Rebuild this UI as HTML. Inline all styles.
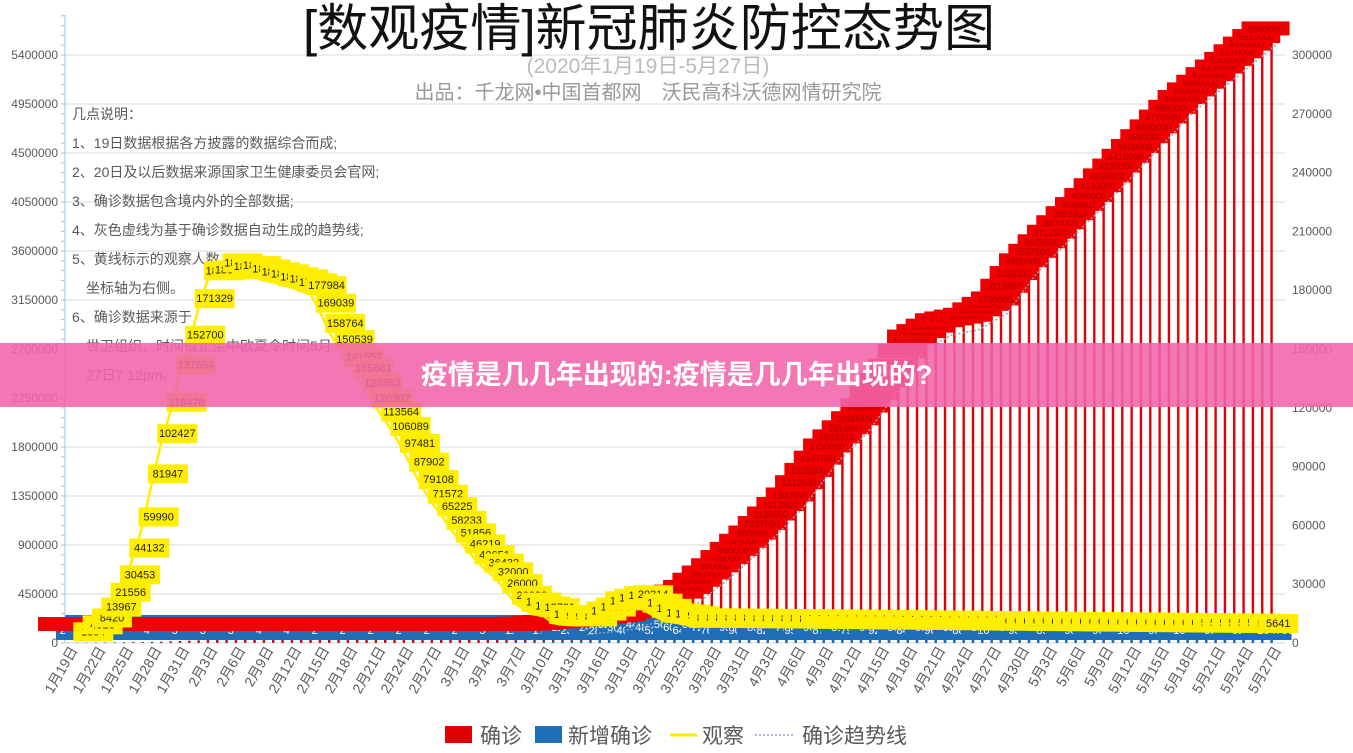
<!DOCTYPE html>
<html><head><meta charset="utf-8">
<style>
html,body{margin:0;padding:0;background:#fff;width:1353px;height:753px;overflow:hidden;font-family:"Liberation Sans","Noto Sans CJK SC",sans-serif;}
#banner{position:absolute;left:0;top:343px;width:1353px;height:64px;background:rgba(240,100,170,0.88);color:#fff;font-weight:bold;font-size:27px;text-align:center;line-height:64px;font-family:"Liberation Sans","Noto Sans CJK SC",sans-serif;}
</style></head><body>
<svg id="c" width="1353" height="753" xmlns="http://www.w3.org/2000/svg" style="position:absolute;left:0;top:0;font-family:'Liberation Sans','Noto Sans CJK SC',sans-serif"></svg>
<div id="banner">疫情是几几年出现的:疫情是几几年出现的?</div>
<script>
const S=document.getElementById('c');let h='';
const Y0=643,PX=588;
const yl=v=>Y0-v/5400000*PX, yr=v=>Y0-v/300000*PX, X=i=>68+i*9.33;
for(let k=0;k<=12;k++){const y=Y0-k*49;h+=`<line x1="65" x2="1285" y1="${y}" y2="${y}" stroke="#d9d9d9"/>`;h+=`<text x="58" y="${y+4}" font-size="12" fill="#595959" text-anchor="end">${k*450000}</text>`;}
for(let k=0;k<=10;k++){const y=Y0-k*58.8;h+=`<text x="1292" y="${y+4}" font-size="12" fill="#595959">${k*30000}</text>`;}
h+=`<line x1="65" x2="65" y1="15" y2="643" stroke="#9dc3e6"/>`;
for(let y=Y0;y>15;y-=9.8)h+=`<line x1="61" x2="65" y1="${y}" y2="${y}" stroke="#9dc3e6"/>`;
h+=`<text x="649" y="46" font-size="51" text-anchor="middle" fill="#111" textLength="692" lengthAdjust="spacingAndGlyphs">[数观疫情]新冠肺炎防控态势图</text>`;
h+=`<text x="648" y="73" font-size="21" text-anchor="middle" fill="#bbb">(2020年1月19日-5月27日)</text>`;
h+=`<text x="648" y="99" font-size="20" text-anchor="middle" fill="#999">出品：千龙网•中国首都网　沃民高科沃德网情研究院</text>`;
const notes=["几点说明：","1、19日数据根据各方披露的数据综合而成;","2、20日及以后数据来源国家卫生健康委员会官网;","3、确诊数据包含境内外的全部数据;","4、灰色虚线为基于确诊数据自动生成的趋势线;","5、黄线标示的观察人数","　坐标轴为右侧。","6、确诊数据来源于","　世卫组织，时间截止至中欧夏令时间5月","　27日7:12pm。"];
notes.forEach((t,i)=>h+=`<text x="72" y="${119+i*29}" font-size="14" fill="#595959">${t}</text>`);
const kp=[[0,200],[10,12000],[20,45000],[30,78000],[40,88000],[45,100000],[50,115000],[55,150000],[60,200000],[63,280000],[67,450000],[70,650000],[74,950000],[78,1300000],[82,1750000],[85,2000000],[88,2350000],[91,2750000],[94,2900000],[97,2950000],[100,3100000],[103,3450000],[107,3800000],[110,4050000],[115,4500000],[120,4950000],[125,5300000],[129,5580000]];
function conf(i){for(let k=1;k<kp.length;k++)if(i<=kp[k][0]){const a=kp[k-1],b=kp[k];return a[1]+(b[1]-a[1])*(i-a[0])/(b[0]-a[0]);}return 5580000;}
let bars='',boxes='';
for(let i=0;i<130;i++){const v=conf(i),x=X(i),y=yl(v);bars+=`<rect x="${x-1.2}" y="${y}" width="2.4" height="${Y0-y}" fill="#e00000"/>`;
 const by=Math.min(y-14,Y0-26);
 boxes+=`<rect x="${x-30}" y="${by}" width="48" height="14" fill="#f00000"/><text x="${x-6}" y="${by+11}" font-size="9" fill="#a00" text-anchor="middle">${Math.round(v)}</text>`;}
let tp='';for(let i=55;i<130;i++)tp+=`${X(i)+6},${yl(conf(i))+8} `;
function nc(i){if(i<10)return 2000+i*300;if(i<25)return 3000+((i*7)%5)*500;if(i<45)return 2000+((i*3)%4)*300;if(i<55)return 5000+(i-45)*2000;if(i<70)return 20000+(i-55)*4000;return 75000+((i*13)%7)*3000+(i-70)*300;}
let blue='';for(let i=0;i<130;i++){const v=nc(i),x=X(i),y=yl(v);blue+=`<rect x="${x-1.2}" y="${y}" width="2.4" height="${Y0-y}" fill="#1f6fb8"/>`;
 const by=Y0-22-((i*5)%3)*3;blue+=`<rect x="${x-12}" y="${by}" width="32" height="19" fill="#1f6fb8"/><text x="${x+4}" y="${by+13}" font-size="11" fill="#fff" text-anchor="middle">${Math.round(v)}</text>`;}
const obs=[1394,4928,8420,13967,21556,30453,44132,59990,81947,102427,118478,137594,152700,171329,185555,186045,189660,187728,188183,186500,185037,184000,182500,181386,179500,177984,169039,158764,150539,141552,135881,128363,120302,113564,106089,97481,87902,79108,71572,65225,58233,51856,46219,40651,36432,32000,26000,20000,16500,14607,13701,10185,9351,9141,8980,12000,14000,17198,18500,19851,20314,16000,13330,11000,10435,9650,8309];
while(obs.length<128){obs.push(Math.round(8484-(obs.length-67)*47));}
obs[127]=5641;
let op='',ob='';obs.forEach((v,k)=>{const i=k+1,x=X(i),y=yr(v);op+=`${x},${y} `;ob+=`<rect x="${x-4}" y="${y-18}" width="40" height="19" fill="#ffee00"/><text x="${x+16}" y="${y-5}" font-size="11" fill="#222" text-anchor="middle">${v}</text>`;});
h+=bars+blue+boxes+`<polyline points="${tp}" fill="none" stroke="#8fa0c0" stroke-width="1.5" stroke-dasharray="2,2"/>`;
h+=`<polyline points="${op}" fill="none" stroke="#ffee00" stroke-width="2.5"/>`+ob;
const md=[31,29,31,30,31];
for(let i=0;i<130;i+=3){let m=1,d=19+i;while(d>md[m-1]){d-=md[m-1];m++;}const x=X(i)+10;h+=`<text transform="translate(${x},650) rotate(-60)" font-size="14" fill="#595959" text-anchor="end">${m}月${d}日</text>`;}
h+=`<rect x="445" y="726" width="27" height="17" fill="#e00000"/><text x="480" y="743" font-size="21" fill="#595959">确诊</text>`;
h+=`<rect x="535" y="726" width="27" height="17" fill="#1f6fb8"/><text x="568" y="743" font-size="21" fill="#595959">新增确诊</text>`;
h+=`<line x1="670" x2="697" y1="735" y2="735" stroke="#ffee00" stroke-width="3"/><text x="702" y="743" font-size="21" fill="#595959">观察</text>`;
h+=`<line x1="755" x2="795" y1="735" y2="735" stroke="#8fa0c0" stroke-width="1.5" stroke-dasharray="2,2"/><text x="802" y="743" font-size="21" fill="#595959">确诊趋势线</text>`;
S.innerHTML=h;
</script>
</body></html>
